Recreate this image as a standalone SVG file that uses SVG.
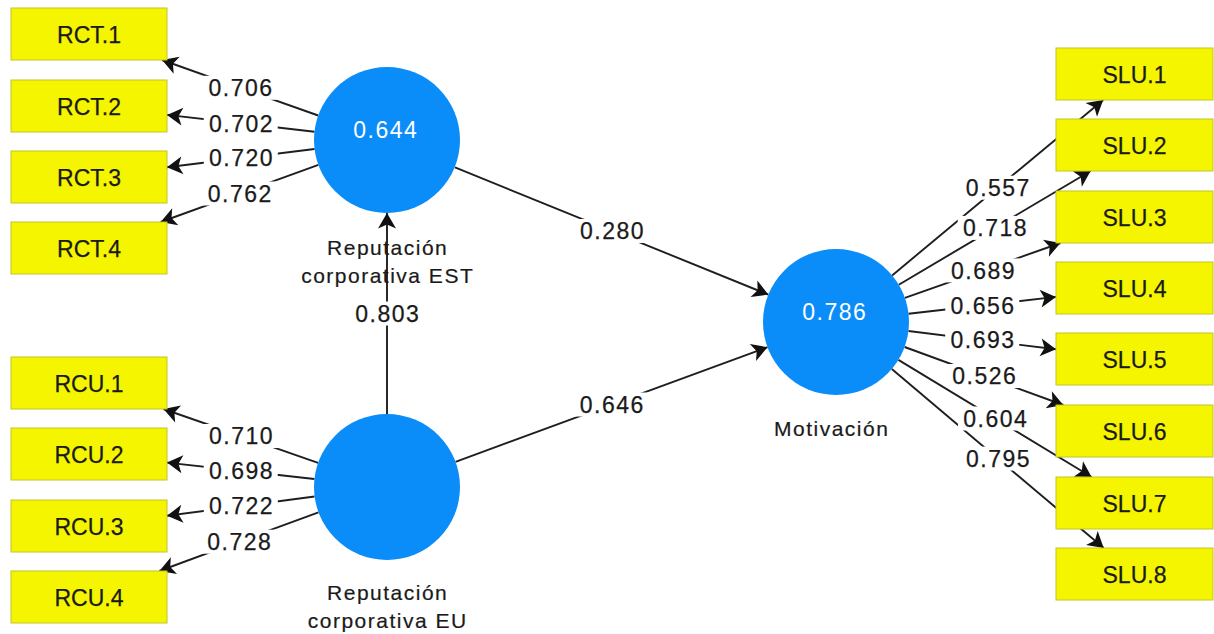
<svg xmlns="http://www.w3.org/2000/svg" width="1214" height="634" viewBox="0 0 1214 634">
<style>
.ln{stroke:#1e1e1e;stroke-width:1.9;fill:none;marker-end:url(#ah)}
.lb{fill:#ffffff}
.num{font-family:"Liberation Sans",Arial,sans-serif;font-size:23px;letter-spacing:1.5px;fill:#1a1a1a;stroke:#1a1a1a;stroke-width:0.25px;text-anchor:middle}
.box{fill:#f5f500;stroke:#c4c42a;stroke-width:1}
.bt{font-family:"Liberation Sans",Arial,sans-serif;font-size:23px;fill:#1a1a1a;stroke:#1a1a1a;stroke-width:0.25px;text-anchor:middle}
.lv{fill:#0a8cf9}
.cv{font-family:"Liberation Sans",Arial,sans-serif;font-size:23px;letter-spacing:1.5px;fill:#ffffff;text-anchor:middle}
.nl{font-family:"Liberation Sans",Arial,sans-serif;font-size:21px;letter-spacing:1.5px;fill:#1a1a1a;stroke:#1a1a1a;stroke-width:0.2px;text-anchor:middle}
</style>
<defs>
<marker id="ah" viewBox="-17 -11 18 22" refX="0" refY="0" markerWidth="18" markerHeight="22" markerUnits="userSpaceOnUse" orient="auto">
<path d="M0,0 L-15.5,-9 L-11.5,0 L-15.5,9 Z" fill="#111"/>
</marker>
</defs>
<rect width="1214" height="634" fill="#ffffff"/>
<g id="connectors">
<line class="ln" x1="318.2" y1="115.5" x2="162.1" y2="60"/>
<line class="ln" x1="314.5" y1="131.7" x2="167" y2="114.9"/>
<line class="ln" x1="314.6" y1="149" x2="167" y2="167.3"/>
<line class="ln" x1="318.4" y1="164.9" x2="160.7" y2="222"/>
<line class="ln" x1="318.1" y1="462.9" x2="163.5" y2="409"/>
<line class="ln" x1="314.4" y1="479" x2="167" y2="462.6"/>
<line class="ln" x1="314.6" y1="496.5" x2="167" y2="515.8"/>
<line class="ln" x1="318.5" y1="512.3" x2="159.4" y2="571"/>
<line class="ln" x1="892.1" y1="275.4" x2="1103.2" y2="100"/>
<line class="ln" x1="898.8" y1="284.8" x2="1090.6" y2="171"/>
<line class="ln" x1="904.9" y1="297.8" x2="1060.5" y2="243"/>
<line class="ln" x1="908.5" y1="313.7" x2="1056" y2="296.9"/>
<line class="ln" x1="908.4" y1="331" x2="1056" y2="349.3"/>
<line class="ln" x1="904.6" y1="347" x2="1063.3" y2="405"/>
<line class="ln" x1="898.4" y1="359.9" x2="1091.6" y2="477"/>
<line class="ln" x1="891.8" y1="369.1" x2="1103.7" y2="548"/>
<line class="ln" x1="455" y1="167.4" x2="768.3" y2="294.6"/>
<line class="ln" x1="455.5" y1="461.8" x2="767.5" y2="347.2"/>
<line class="ln" x1="387" y1="414" x2="387" y2="213"/>
<g id="connector-labels">
<rect class="lb" x="203.2" y="75.8" width="74" height="24"/><text class="num" x="241" y="96">0.706</text>
<rect class="lb" x="203.7" y="111.3" width="74" height="24"/><text class="num" x="241.5" y="131.5">0.702</text>
<rect class="lb" x="203.8" y="146.1" width="74" height="24"/><text class="num" x="241.6" y="166.3">0.720</text>
<rect class="lb" x="202.5" y="181.5" width="74" height="24"/><text class="num" x="240.3" y="201.7">0.762</text>
<rect class="lb" x="203.8" y="424" width="74" height="24"/><text class="num" x="241.6" y="444.2">0.710</text>
<rect class="lb" x="203.7" y="458.8" width="74" height="24"/><text class="num" x="241.5" y="479">0.698</text>
<rect class="lb" x="203.8" y="494.2" width="74" height="24"/><text class="num" x="241.6" y="514.4">0.722</text>
<rect class="lb" x="202" y="529.7" width="74" height="24"/><text class="num" x="239.8" y="549.9">0.728</text>
<rect class="lb" x="960.6" y="175.7" width="74" height="24"/><text class="num" x="998.4" y="195.9">0.557</text>
<rect class="lb" x="957.7" y="215.9" width="74" height="24"/><text class="num" x="995.5" y="236.1">0.718</text>
<rect class="lb" x="945.7" y="258.4" width="74" height="24"/><text class="num" x="983.5" y="278.6">0.689</text>
<rect class="lb" x="945.3" y="293.3" width="74" height="24"/><text class="num" x="983.1" y="313.5">0.656</text>
<rect class="lb" x="945.2" y="328.1" width="74" height="24"/><text class="num" x="983" y="348.3">0.693</text>
<rect class="lb" x="947" y="364" width="74" height="24"/><text class="num" x="984.8" y="384.2">0.526</text>
<rect class="lb" x="958" y="406.5" width="74" height="24"/><text class="num" x="995.8" y="426.7">0.604</text>
<rect class="lb" x="960.7" y="446.6" width="74" height="24"/><text class="num" x="998.5" y="466.8">0.795</text>
<rect class="lb" x="574.7" y="219" width="74" height="24"/><text class="num" x="612.5" y="239.2">0.280</text>
<rect class="lb" x="574.5" y="392.5" width="74" height="24"/><text class="num" x="612.3" y="412.7">0.646</text>
<rect class="lb" x="350" y="301.5" width="74" height="24"/><text class="num" x="387.8" y="321.7">0.803</text>
</g>
</g>
<g id="RCT1"><rect class="box" x="11" y="8" width="156" height="52"/><text class="bt" x="89" y="42.5">RCT.1</text></g>
<g id="RCT2"><rect class="box" x="11" y="80" width="156" height="52"/><text class="bt" x="89" y="114.5">RCT.2</text></g>
<g id="RCT3"><rect class="box" x="11" y="151" width="156" height="52"/><text class="bt" x="89" y="185.5">RCT.3</text></g>
<g id="RCT4"><rect class="box" x="11" y="222" width="156" height="52"/><text class="bt" x="89" y="256.5">RCT.4</text></g>
<g id="RCU1"><rect class="box" x="11" y="357" width="156" height="52"/><text class="bt" x="89" y="391.5">RCU.1</text></g>
<g id="RCU2"><rect class="box" x="11" y="428" width="156" height="52"/><text class="bt" x="89" y="462.5">RCU.2</text></g>
<g id="RCU3"><rect class="box" x="11" y="500" width="156" height="52"/><text class="bt" x="89" y="534.5">RCU.3</text></g>
<g id="RCU4"><rect class="box" x="11" y="571" width="156" height="52"/><text class="bt" x="89" y="605.5">RCU.4</text></g>
<g id="SLU1"><rect class="box" x="1056" y="48" width="157" height="52"/><text class="bt" x="1134.5" y="82.5">SLU.1</text></g>
<g id="SLU2"><rect class="box" x="1056" y="119" width="157" height="52"/><text class="bt" x="1134.5" y="153.5">SLU.2</text></g>
<g id="SLU3"><rect class="box" x="1056" y="191" width="157" height="52"/><text class="bt" x="1134.5" y="225.5">SLU.3</text></g>
<g id="SLU4"><rect class="box" x="1056" y="262" width="157" height="52"/><text class="bt" x="1134.5" y="296.5">SLU.4</text></g>
<g id="SLU5"><rect class="box" x="1056" y="333" width="157" height="52"/><text class="bt" x="1134.5" y="367.5">SLU.5</text></g>
<g id="SLU6"><rect class="box" x="1056" y="405" width="157" height="52"/><text class="bt" x="1134.5" y="439.5">SLU.6</text></g>
<g id="SLU7"><rect class="box" x="1056" y="477" width="157" height="52"/><text class="bt" x="1134.5" y="511.5">SLU.7</text></g>
<g id="SLU8"><rect class="box" x="1056" y="548" width="157" height="52"/><text class="bt" x="1134.5" y="582.5">SLU.8</text></g>
<g id="RepEST"><circle class="lv" cx="387" cy="140" r="73"/><text class="cv" x="385.8" y="138">0.644</text>
<text class="nl" x="387.7" y="255">Reputación</text><text class="nl" x="387.7" y="283">corporativa EST</text></g>
<g id="RepEU"><circle class="lv" cx="387" cy="487" r="73"/>
<text class="nl" x="387.7" y="600">Reputación</text><text class="nl" x="387.7" y="628">corporativa EU</text></g>
<g id="Motivacion"><circle class="lv" cx="836" cy="322" r="73"/><text class="cv" x="834.8" y="320">0.786</text>
<text class="nl" x="831.7" y="436">Motivación</text></g>
</svg>
